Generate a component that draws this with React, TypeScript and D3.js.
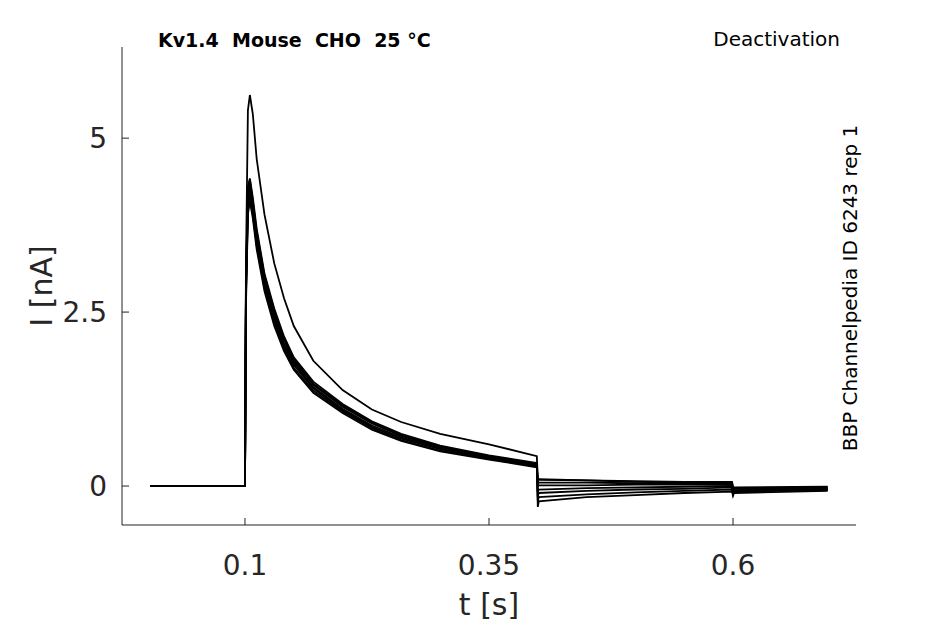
import React from 'react';
import * as d3 from 'd3';

const times = [0.003, 0.099, 0.1, 0.101, 0.103, 0.105, 0.108, 0.112, 0.12, 0.13, 0.14, 0.15, 0.17, 0.2, 0.23, 0.26, 0.3, 0.35, 0.399, 0.4, 0.401, 0.45, 0.5, 0.55, 0.599, 0.6, 0.601, 0.697];

const traces: number[][] = [
  [0, 0, 0, 3.2, 5.4, 5.62, 5.35, 4.7, 3.9, 3.2, 2.7, 2.3, 1.8, 1.38, 1.1, 0.92, 0.75, 0.6, 0.43, 0.1, 0.1, 0.08, 0.06, 0.05, 0.05, -0.05, -0.03, -0.04],
  [0, 0, 0, 3.0, 4.3, 4.42, 4.15, 3.7, 3.05, 2.55, 2.15, 1.85, 1.5, 1.18, 0.93, 0.75, 0.58, 0.44, 0.33, -0.3, -0.22, -0.16, -0.13, -0.1, -0.08, -0.14, -0.1, -0.07],
  [0, 0, 0, 2.9, 4.2, 4.35, 4.05, 3.6, 3.0, 2.5, 2.1, 1.8, 1.45, 1.14, 0.9, 0.72, 0.56, 0.42, 0.31, -0.22, -0.16, -0.12, -0.09, -0.07, -0.05, -0.12, -0.08, -0.06],
  [0, 0, 0, 2.8, 4.1, 4.3, 4.0, 3.55, 2.95, 2.45, 2.05, 1.77, 1.42, 1.11, 0.87, 0.7, 0.54, 0.41, 0.3, -0.15, -0.1, -0.07, -0.05, -0.04, -0.02, -0.1, -0.07, -0.05],
  [0, 0, 0, 2.8, 4.0, 4.2, 3.95, 3.5, 2.9, 2.4, 2.02, 1.74, 1.4, 1.09, 0.85, 0.68, 0.53, 0.4, 0.29, -0.08, -0.05, -0.03, -0.02, -0.01, 0.0, -0.08, -0.06, -0.04],
  [0, 0, 0, 2.7, 3.95, 4.15, 3.9, 3.45, 2.85, 2.35, 1.98, 1.7, 1.37, 1.07, 0.83, 0.66, 0.51, 0.39, 0.28, 0.0, 0.01, 0.01, 0.02, 0.02, 0.02, -0.06, -0.04, -0.03],
  [0, 0, 0, 2.6, 3.9, 4.1, 3.85, 3.4, 2.8, 2.3, 1.94, 1.67, 1.34, 1.05, 0.81, 0.65, 0.5, 0.38, 0.27, 0.06, 0.05, 0.05, 0.04, 0.04, 0.04, -0.04, -0.03, -0.02],
  [0, 0, 0, 2.9, 4.25, 4.4, 4.1, 3.65, 3.02, 2.52, 2.12, 1.82, 1.47, 1.16, 0.91, 0.73, 0.57, 0.43, 0.32, 0.1, 0.09, 0.08, 0.07, 0.06, 0.06, -0.02, -0.02, -0.01],
];

const xTicks = [0.1, 0.35, 0.6];
const yTicks = [0, 2.5, 5];

const W = 945, H = 624;
const L = 122, R = 856, T = 47, B = 525;

export default function App() {
  const x = d3.scaleLinear().domain([-0.026, 0.726]).range([L, R]);
  const y = d3.scaleLinear().domain([-0.56, 6.31]).range([B, T]);
  const line = d3.line<number>().x((_, i) => x(times[i])).y(d => y(d));
  const font = 'DejaVu Sans, sans-serif';
  return (
    <svg width={W} height={H} style={{ position: 'absolute', left: 0, top: 0, background: '#fff' }} fontFamily={font}>
      <line x1={L} x2={L} y1={T} y2={B} stroke="#222" />
      <line x1={L} x2={R} y1={B} y2={B} stroke="#222" />
      {xTicks.map(t => (
        <g key={t}>
          <line x1={x(t)} x2={x(t)} y1={B} y2={B - 7} stroke="#222" />
          <text x={x(t)} y={B + 50} textAnchor="middle" fontSize={28} fill="#262626">{t}</text>
        </g>
      ))}
      {yTicks.map(t => (
        <g key={t}>
          <line x1={L} x2={L + 7} y1={y(t)} y2={y(t)} stroke="#222" />
          <text x={L - 15} y={y(t) + 10} textAnchor="end" fontSize={28} fill="#262626">{t}</text>
        </g>
      ))}
      <text x={(L + R) / 2} y={615} textAnchor="middle" fontSize={30} fill="#262626">t [s]</text>
      <text transform={`translate(52,${(T + B) / 2}) rotate(-90)`} textAnchor="middle" fontSize={30} fill="#262626">I [nA]</text>
      {traces.map((tr, i) => (
        <path key={i} d={line(tr) || ''} fill="none" stroke="#000" strokeWidth={1.8} />
      ))}
      <text x={158} y={47} fontSize={19} fontWeight="bold" style={{ whiteSpace: 'pre' }}>{'Kv1.4  Mouse  CHO  25 °C'}</text>
      <text x={840} y={46} textAnchor="end" fontSize={20}>Deactivation</text>
      <text transform="translate(857,288) rotate(-90)" textAnchor="middle" fontSize={20}>BBP Channelpedia ID 6243 rep 1</text>
    </svg>
  );
}
